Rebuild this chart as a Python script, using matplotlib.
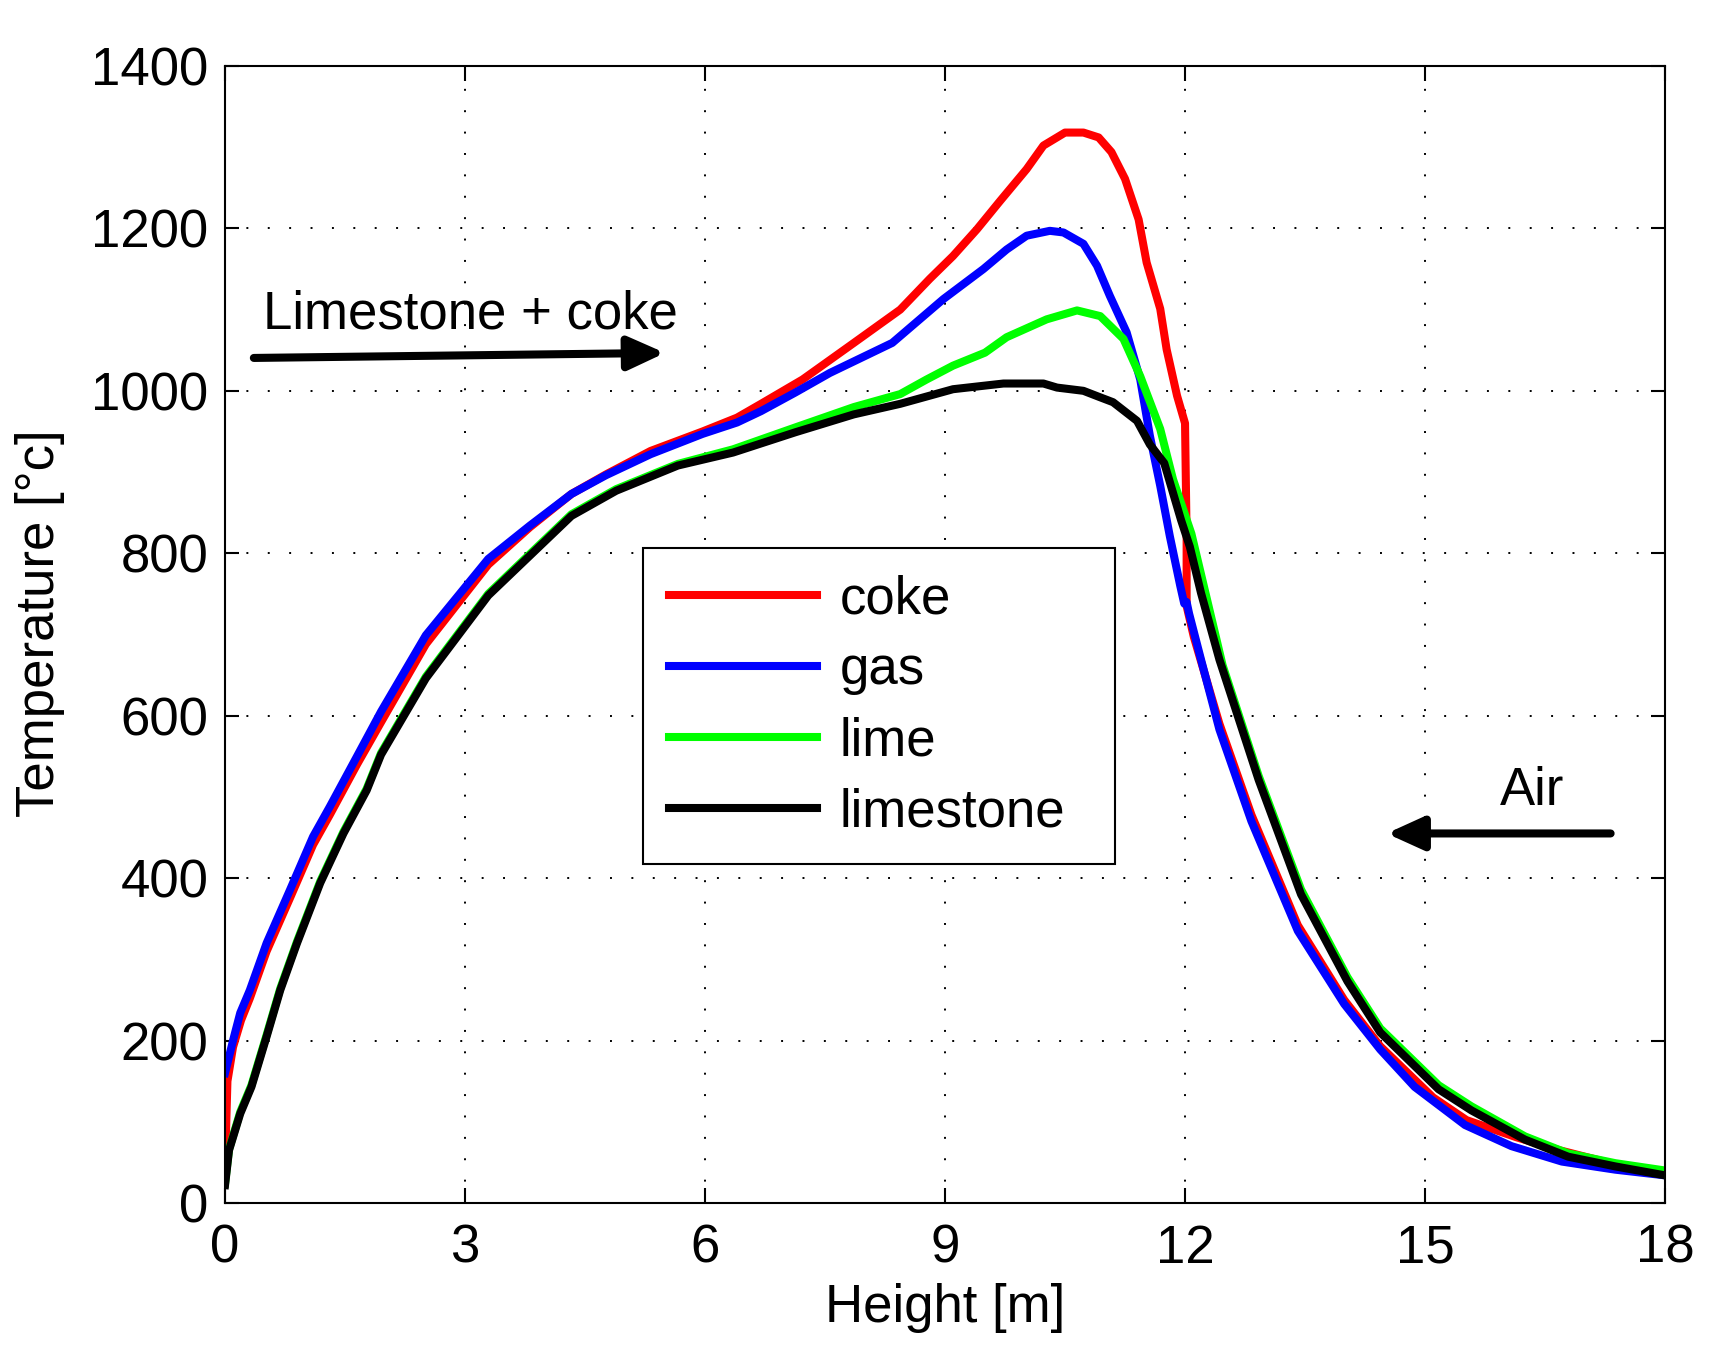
import matplotlib
matplotlib.use("Agg")
import matplotlib.pyplot as plt

plt.rcParams["font.family"] = ["Liberation Sans", "DejaVu Sans"]
plt.rcParams["font.size"] = 38

# coke temperature along the kiln height
coke_h = [0, 0.03, 0.1, 0.2, 0.31, 0.52, 0.81, 1.1, 1.31, 1.65, 1.95, 2.51, 3.29,
          3.81, 4.33, 4.76, 5.32, 5.97, 6.40, 6.70, 7.22, 7.86, 8.44, 8.81, 9.10,
          9.40, 9.69, 10.02, 10.23, 10.50, 10.73, 10.92, 11.08, 11.25, 11.42, 11.52,
          11.69, 11.77, 11.90, 12.00, 12.02, 12.02, 12.11, 12.43, 12.83, 13.41,
          13.99, 14.44, 15.1, 15.52, 16.14, 16.68, 17.36, 18.0]
coke_t = [45, 150, 192, 225, 252, 310, 375, 441, 478, 540, 592, 688, 786,
          832, 873, 897, 926, 950, 967, 984, 1014, 1059, 1100, 1138, 1166,
          1199, 1234, 1273, 1302, 1318, 1318, 1312, 1294, 1261, 1211, 1158,
          1101, 1051, 994, 960, 820, 735, 697, 590, 478, 342,
          250, 193, 130, 102, 81, 65, 48, 35]

gas_h = [0, 0.10, 0.19, 0.31, 0.52, 0.81, 1.1, 1.31, 1.65, 1.95, 2.51, 3.29, 3.81,
         4.33, 4.76, 5.32, 5.97, 6.40, 6.70, 7.13, 7.56, 8.34, 8.98, 9.48, 9.77,
         10.02, 10.31, 10.48, 10.73, 10.90, 11.06, 11.27, 11.44, 11.56, 11.69,
         11.81, 11.94, 11.99, 12.02, 12.05, 12.20, 12.43, 12.83, 13.41, 13.99,
         14.44, 14.87, 15.5, 16.08, 16.71, 17.38, 18.0]
gas_t = [160, 200, 234, 262, 320, 385, 451, 488, 550, 605, 699, 793, 834,
         873, 896, 922, 947, 961, 975, 998, 1022, 1059, 1113, 1150, 1174,
         1191, 1197, 1195, 1181, 1154, 1117, 1072, 1014, 945, 883,
         821, 760, 738, 740, 726, 669, 583, 470, 335, 245,
         189, 143, 96, 70, 51, 41, 34]

lime_h = [0, 0.05, 0.19, 0.33, 0.52, 0.69, 0.90, 1.19, 1.48, 1.77, 1.95, 2.51, 3.29,
          3.81, 4.33, 4.89, 5.66, 6.35, 7.13, 7.86, 8.44, 8.77, 9.10, 9.50, 9.77,
          10.27, 10.65, 10.94, 11.23, 11.44, 11.69, 11.85, 12.08, 12.47, 12.92,
          13.45, 14.03, 14.44, 15.17, 15.58, 16.25, 16.79, 17.38, 18.0]
lime_t = [24, 66, 112, 145, 207, 264, 322, 396, 457, 510, 554, 648, 750,
          799, 848, 879, 910, 928, 955, 980, 996, 1014, 1031, 1047, 1066,
          1088, 1099, 1092, 1064, 1018, 953, 891, 824, 662, 526,
          386, 278, 215, 145, 119, 82, 61, 49, 40]

limestone_h = [0, 0.05, 0.19, 0.33, 0.52, 0.69, 0.90, 1.19, 1.48, 1.77, 1.95, 2.51,
               3.29, 3.81, 4.33, 4.89, 5.66, 6.35, 7.13, 7.86, 8.44, 9.10, 9.73,
               10.23, 10.40, 10.73, 10.94, 11.10, 11.40, 11.56, 11.74, 11.95, 12.06,
               12.20, 12.43, 12.92, 13.45, 14.03, 14.44, 15.17, 15.58, 16.25, 16.79,
               17.38, 18.0]
limestone_t = [22, 65, 110, 143, 205, 262, 320, 394, 455, 508, 552, 646,
               748, 797, 846, 877, 908, 924, 949, 971, 984, 1002, 1009,
               1009, 1004, 1000, 992, 986, 963, 934, 911, 841, 808,
               751, 669, 521, 380, 273, 210, 140, 114, 78, 57,
               45, 34]

x_ticks = [0, 3, 6, 9, 12, 15, 18]
y_ticks = [0, 200, 400, 600, 800, 1000, 1200, 1400]

fig = plt.figure(figsize=(17.1, 13.63), dpi=100)
ax = fig.add_axes([0.1316, 0.1174, 0.8421, 0.8342])

lw = 5.8
ax.plot(coke_h, coke_t, color="#ff0000", lw=lw, label="coke")
ax.plot(gas_h, gas_t, color="#0000ff", lw=lw, label="gas")
ax.plot(lime_h, lime_t, color="#00ff00", lw=lw, label="lime")
ax.plot(limestone_h, limestone_t, color="#000000", lw=lw, label="limestone")

ax.set_xlim(0, 18)
ax.set_ylim(0, 1400)
ax.set_xticks(x_ticks)
ax.set_yticks(y_ticks)
ax.grid(True, color="black", linestyle=(0, (1, 10)), linewidth=1.4)
for sp in ax.spines.values():
    sp.set_linewidth(1.5)
ax.tick_params(direction="in", top=True, right=True, width=1.5)
ax.tick_params(axis="x", length=11, pad=15)
ax.tick_params(axis="y", length=10, pad=12)

ax.set_xlabel("Height [m]")
ax.set_ylabel("Temperature [°c]")
ax.xaxis.set_label_coords(0.5, -0.07)
ax.yaxis.set_label_coords(-0.111, 0.51)

arrow_kw = dict(arrowstyle="-|>,head_length=1.1,head_width=0.5", lw=5.8,
                color="black", shrinkA=0, shrinkB=0, mutation_scale=20)
ax.annotate("", xy=(5.5, 1046.7), xytext=(0.36, 1040.5), arrowprops=arrow_kw)
ax.annotate("", xy=(14.52, 455), xytext=(17.32, 455), arrowprops=arrow_kw)
ax.text(0.47, 1077, "Limestone + coke", ha="left", va="baseline")
ax.text(15.93, 490, "Air", ha="left", va="baseline")

leg = ax.legend(loc="upper left", bbox_to_anchor=(0.2903, 0.3096, 0.3278, 0.2665),
                mode="expand", borderaxespad=0, fancybox=False, framealpha=1,
                edgecolor="black", handlelength=2.8, handletextpad=0.42,
                labelspacing=0.4, borderpad=0.5)
leg.get_frame().set_linewidth(1.5)

fig.savefig("out.png", dpi=100)
